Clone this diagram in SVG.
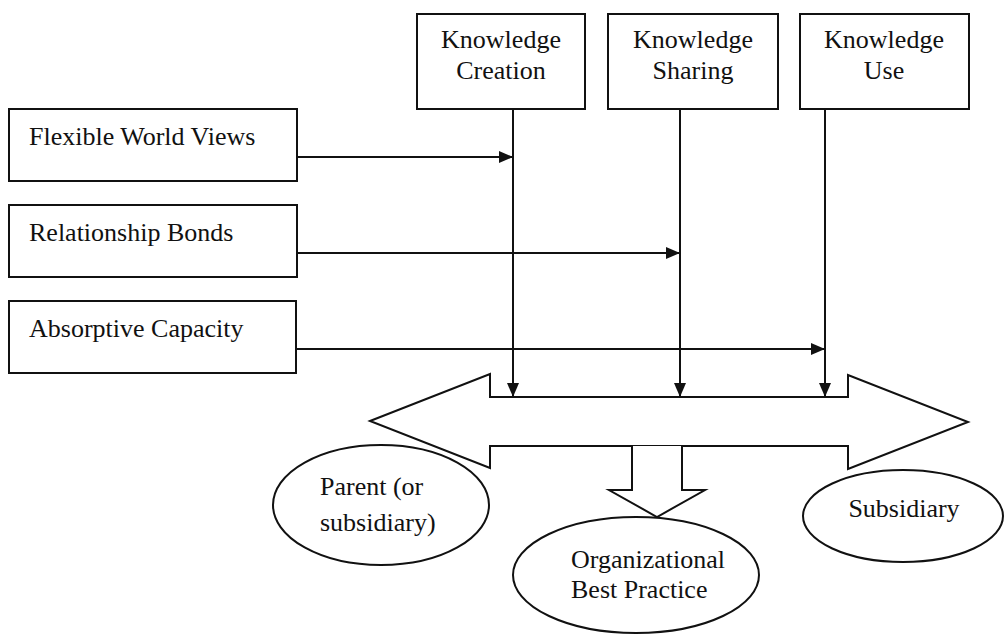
<svg xmlns="http://www.w3.org/2000/svg" width="1005" height="634" viewBox="0 0 1005 634">
  <style>
    .box { fill: #fff; stroke: #111; stroke-width: 2; }
    .shape { fill: #fff; stroke: #111; stroke-width: 2; stroke-linejoin: miter; }
    .line { fill: none; stroke: #111; stroke-width: 2; }
    text { font-family: "Liberation Serif", "Times New Roman", serif; font-size: 26px; fill: #111; }
    .c { text-anchor: middle; }
  </style>
  <defs>
    <marker id="head" viewBox="0 0 14 12" refX="14" refY="6" markerWidth="14" markerHeight="12" markerUnits="userSpaceOnUse" orient="auto">
      <path d="M0,0 L14,6 L0,12 Z" fill="#111"/>
    </marker>
  </defs>

  <rect width="1005" height="634" fill="#fff"/>

  <!-- Knowledge process boxes -->
  <g id="creation">
    <rect class="box" x="417" y="14" width="168" height="95"/>
    <text class="c" x="501" y="48">Knowledge</text>
    <text class="c" x="501" y="79">Creation</text>
  </g>
  <g id="sharing">
    <rect class="box" x="608" y="14" width="170" height="95"/>
    <text class="c" x="693" y="48">Knowledge</text>
    <text class="c" x="693" y="79">Sharing</text>
  </g>
  <g id="use">
    <rect class="box" x="800" y="14" width="169" height="95"/>
    <text class="c" x="884" y="48">Knowledge</text>
    <text class="c" x="884" y="79">Use</text>
  </g>

  <!-- Enabling factors -->
  <g id="worldviews">
    <rect class="box" x="9" y="109" width="288" height="72"/>
    <text x="29" y="145">Flexible World Views</text>
  </g>
  <g id="bonds">
    <rect class="box" x="9" y="205" width="288" height="72"/>
    <text x="29" y="241">Relationship Bonds</text>
  </g>
  <g id="absorptive">
    <rect class="box" x="9" y="301" width="287" height="72"/>
    <text x="29" y="337">Absorptive Capacity</text>
  </g>

  <!-- Two-way transfer channel -->
  <g id="channel">
    <path class="shape" d="M370,421 L490,374 L490,397 L848,397 L848,375 L968,422 L848,469 L848,446 L490,446 L490,468 Z"/>
  </g>

  <!-- Outflow to best practice -->
  <g id="outflow">
    <path class="shape" d="M632,446 L632,490 L609,490 L657,517 L705,490 L682,490 L682,446"/>
  </g>

  <!-- Organisational units -->
  <g id="parent">
    <ellipse class="box" cx="381" cy="505" rx="108" ry="60"/>
    <text x="320" y="495">Parent (or</text>
    <text x="320" y="531">subsidiary)</text>
  </g>
  <g id="bestpractice">
    <ellipse class="box" cx="636" cy="575" rx="123" ry="58"/>
    <text x="571" y="568">Organizational</text>
    <text x="571" y="598">Best Practice</text>
  </g>
  <g id="subsidiary">
    <ellipse class="box" cx="903" cy="516" rx="100" ry="46"/>
    <text class="c" x="904" y="517">Subsidiary</text>
  </g>

  <!-- Connectors -->
  <g id="connectors">
    <line class="line" x1="513" y1="109" x2="513" y2="397" marker-end="url(#head)"/>
    <line class="line" x1="680" y1="109" x2="680" y2="397" marker-end="url(#head)"/>
    <line class="line" x1="825" y1="109" x2="825" y2="397" marker-end="url(#head)"/>
    <line class="line" x1="297" y1="157" x2="513" y2="157" marker-end="url(#head)"/>
    <line class="line" x1="297" y1="253" x2="680" y2="253" marker-end="url(#head)"/>
    <line class="line" x1="296" y1="349" x2="825" y2="349" marker-end="url(#head)"/>
  </g>
</svg>
